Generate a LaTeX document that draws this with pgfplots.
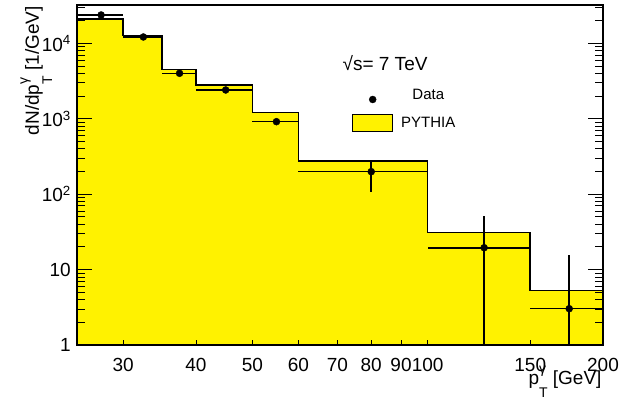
\documentclass[border=0pt]{standalone}
\usepackage{fontspec}
\setmainfont{Liberation Sans}
\usepackage{pgfplots}
\pgfplotsset{compat=1.18}

% p_T with stacked gamma superscript and T subscript
\newcommand{\scr}{\fontsize{14}{14}\selectfont}
\newcommand{\ptg}{p\rlap{\raisebox{11pt}{\scr γ}}\raisebox{-13pt}{\scr T}}
\newcommand{\lblfont}{\fontsize{19}{22}\selectfont}

\begin{document}
\begin{tikzpicture}
\begin{axis}[
  name=ax,
  scale only axis, width=526pt, height=340pt,
  xmode=log, ymode=log,
  xmin=25, xmax=200, ymin=1, ymax=32300,
  axis on top,
  axis line style={line width=1.2pt},
  xtick={30,40,50,60,70,80,90,100,150,200},
  xticklabels={30,40,50,60,70,80,90,100,150,200},
  minor xtick={},
  xtick pos=bottom,
  ytick={1,10,100,1000,10000},
  yticklabels={1,10,10\textsuperscript{2},10\textsuperscript{3},10\textsuperscript{4}},
  minor ytick={2,3,...,9,20,30,...,90,200,300,...,900,2000,3000,...,9000,20000,30000},
  ytick pos=both,
  tick style={line width=0.8pt, black},
  major tick length=15pt, minor tick length=7.7pt,
  xtick style={/pgfplots/major tick length=5pt},
  tick label style={font=\lblfont},
  xticklabel style={anchor=base, yshift=-27pt, inner sep=0pt},
  yticklabel style={anchor=east, inner sep=0pt, xshift=-6pt},
  legend style={draw=none, fill=none, inner sep=0pt,
    at={(rel axis cs:0.5228,0.7603)}, anchor=north west,
    font=\fontsize{15}{18}\selectfont, row sep=10.7pt, column sep=8pt,
    nodes={inner sep=0pt}},
  reverse legend,
]
% PYTHIA histogram (bin contents, left edges)
\addplot[const plot, fill=yellow, draw=black, line width=1.6pt,
  legend image code/.code={\draw[fill=yellow, draw=black, line width=1pt] (0pt,-8.5pt) rectangle (40pt,8.5pt);}]
  coordinates {(25,1) (25,20900) (30,12650) (35,4530) (40,2807) (50,1205)
               (60,275) (100,30.9) (150,5.25) (200,5.25) (200,1)};
\addlegendentry{PYTHIA}
% Data points with bin widths and statistical errors
\addplot[only marks, mark=*, mark size=3.5pt, black,
  legend image code/.code={\path[draw=none, fill=none] (0pt,-8.5pt) rectangle (40pt,8.5pt);
    \draw[black, mark=*, mark size=3.5pt] plot coordinates {(20pt,-4.3pt)};},
  error bars/.cd, x dir=both, x explicit, y dir=both, y explicit,
  error mark=none, error bar style={line width=1.6pt, black}]
  coordinates {
    (27.5,23800) +- (2.5,0)
    (32.5,12160) +- (2.5,0)
    (37.5,4010)  +- (2.5,0)
    (45,2410)    +- (5,0)
    (55,916)     +- (5,0)
    (80,199)   += (20,85)   -= (20,91)
    (125,19.5) += (25,31.9) -= (25,19.0)
    (175,3.03) += (25,12.5) -= (25,2.9)
  };
\addlegendentry{Data}
\node[font=\lblfont, anchor=base] at (rel axis cs:0.5856,0.806) {√s= 7 TeV};
\end{axis}
\node[rotate=90, anchor=base east, inner sep=0pt, font=\lblfont] at ([xshift=-38pt,yshift=-1pt]ax.north west) {dN/d\ptg\ [1/GeV]};
\node[anchor=base east, inner sep=0pt, font=\lblfont] at ([xshift=-1.3pt,yshift=-40pt]ax.south east) {\ptg\ [GeV]};
\pgfresetboundingbox
\path ([xshift=-77pt,yshift=-58pt]ax.south west) rectangle ++(623pt,403pt);
\end{tikzpicture}
\end{document}
